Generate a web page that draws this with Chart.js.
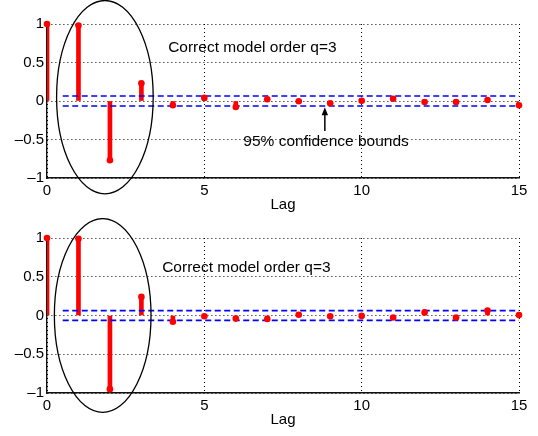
<!DOCTYPE html>
<html><head><meta charset="utf-8">
<script src="https://cdn.jsdelivr.net/npm/chart.js@4/dist/chart.umd.min.js"></script>
<style>
html,body{margin:0;padding:0;background:#fff;overflow:hidden;width:538px;height:436px}
canvas{position:absolute;left:0}
</style></head><body>
<canvas id="c1" width="538" height="218" style="top:0"></canvas>
<canvas id="c2" width="538" height="218" style="top:218px"></canvas>
<script>
// ---- data ----
const lags = [0,1,2,3,4,5,6,7,8,9,10,11,12,13,14,15];
const acfTop = [1, 0.98, -0.77, 0.23, -0.056, 0.04, -0.078, 0.022, -0.004, -0.03, 0.002, 0.03, -0.013, -0.013, 0.013, -0.056];
const acfBottom = [1, 0.99, -0.95, 0.24, -0.08, -0.01, -0.04, -0.045, 0.01, -0.01, -0.005, -0.025, 0.04, -0.025, 0.065, 0.005];
const boundTop = 0.065;
const boundBottom = 0.063;
const boundStart = 0.5, boundEnd = 15;
const xTicks = [0, 5, 10, 15];
const yTicks = [-1, -0.5, 0, 0.5, 1];
const xTitle = 'Lag';
const noteModel = 'Correct model order q=3';
const noteBounds = '95% confidence bounds';

const FONT = '"Liberation Sans", Arial, Helvetica, sans-serif';
Chart.defaults.font.family = FONT;
Chart.defaults.font.size = 15;
Chart.defaults.color = '#000';

function fmtY(v) {
  if (v === 0) return '0';
  return v < 0 ? '\u2013' + String(Math.abs(v)) : String(v);
}

function annotPlugin(ann) {
  return {
    id: 'annot',
    afterDraw(chart) {
      const {ctx} = chart;
      const x = chart.scales.x, y = chart.scales.y;
      ctx.save();
      const e = ann.ellipse;
      const cx = x.getPixelForValue(e.cx), cy = y.getPixelForValue(e.cy);
      const rx = Math.abs(x.getPixelForValue(e.cx + e.rx) - cx);
      const ry = Math.abs(y.getPixelForValue(e.cy + e.ry) - cy);
      ctx.beginPath();
      ctx.ellipse(cx, cy, rx, ry, 0, 0, Math.PI * 2);
      ctx.strokeStyle = '#000';
      ctx.lineWidth = 1.3;
      ctx.stroke();
      ctx.font = '15.5px ' + FONT;
      ctx.fillStyle = '#000';
      ctx.textBaseline = 'middle';
      ctx.textAlign = 'left';
      for (const t of ann.texts) {
        ctx.fillText(t.text, x.getPixelForValue(t.x), y.getPixelForValue(t.y));
      }
      if (ann.arrow) {
        const a = ann.arrow;
        const ax = x.getPixelForValue(a.x);
        const y0 = y.getPixelForValue(a.from), y1 = y.getPixelForValue(a.to);
        ctx.beginPath();
        ctx.moveTo(ax, y0);
        ctx.lineTo(ax, y1 + 6);
        ctx.lineWidth = 1.5;
        ctx.stroke();
        ctx.beginPath();
        ctx.moveTo(ax, y1);
        ctx.lineTo(ax - 3.2, y1 + 8);
        ctx.lineTo(ax + 3.2, y1 + 8);
        ctx.closePath();
        ctx.fill();
      }
      ctx.restore();
    }
  };
}

function makeChart(id, values, bound, lay, ann) {
  const pts = lags.map((l, i) => ({x: l, y: values[i]}));
  return new Chart(document.getElementById(id), {
    type: 'bar',
    data: {
      datasets: [
        {
          type: 'scatter', data: pts, order: 0, clip: false,
          pointRadius: 3.3, pointBackgroundColor: '#ff0000', pointBorderWidth: 0,
          pointBorderColor: '#ff0000'
        },
        {
          type: 'line', order: 1,
          data: [{x: boundStart, y: bound}, {x: boundEnd, y: bound}],
          borderColor: '#0000ff', borderWidth: 1.6, borderDash: [6, 3.5], pointRadius: 0
        },
        {
          type: 'line', order: 1,
          data: [{x: boundStart, y: -bound}, {x: boundEnd, y: -bound}],
          borderColor: '#0000ff', borderWidth: 1.6, borderDash: [6, 3.5], pointRadius: 0
        },
        {
          type: 'bar', order: 2, data: pts,
          backgroundColor: '#ff0000', borderWidth: 0, barThickness: 4
        }
      ]
    },
    options: {
      responsive: false,
      animation: false,
      devicePixelRatio: 1,
      layout: {padding: {left: 0, right: 19, top: lay.top, bottom: 0}},
      plugins: {legend: {display: false}, tooltip: {enabled: false}},
      scales: {
        x: {
          type: 'linear', min: 0, max: 15, offset: false,
          afterFit: s => { s.height = lay.xh; },
          afterBuildTicks: s => { s.ticks = xTicks.map(v => ({value: v})); },
          ticks: {padding: 4, maxRotation: 0, autoSkip: false, color: '#000', font: {size: 15}},
          grid: {color: '#000', lineWidth: 1, drawTicks: false, offset: false},
          border: {display: true, color: '#111', width: 1.4, dash: [1, 3]},
          title: {display: true, text: xTitle, color: '#000', font: {size: 15},
                  padding: {top: 0, bottom: lay.tpb}}
        },
        y: {
          type: 'linear', min: -1, max: 1,
          afterFit: s => { s.width = 47; },
          afterBuildTicks: s => { s.ticks = yTicks.map(v => ({value: v})); },
          ticks: {padding: 3, color: '#000', font: {size: 15}, callback: v => fmtY(v)},
          grid: {color: '#000', lineWidth: 1, drawTicks: false},
          border: {display: true, color: '#111', width: 1.4, dash: [1, 3]}
        }
      }
    },
    plugins: [annotPlugin(ann)]
  });
}

makeChart('c1', acfTop, boundTop, {top: 24, xh: 40, tpb: 4}, {
  ellipse: {cx: 1.84, cy: 0.05, rx: 1.535, ry: 1.255},
  texts: [{text: noteModel, x: 3.85, y: 0.695}, {text: noteBounds, x: 6.24, y: -0.53}],
  arrow: {x: 8.83, from: -0.39, to: -0.08}
});
makeChart('c2', acfBottom, boundBottom, {top: 20, xh: 43, tpb: 7}, {
  ellipse: {cx: 1.77, cy: 0.0, rx: 1.536, ry: 1.25},
  texts: [{text: noteModel, x: 3.66, y: 0.613}]
});
</script>
</body></html>
